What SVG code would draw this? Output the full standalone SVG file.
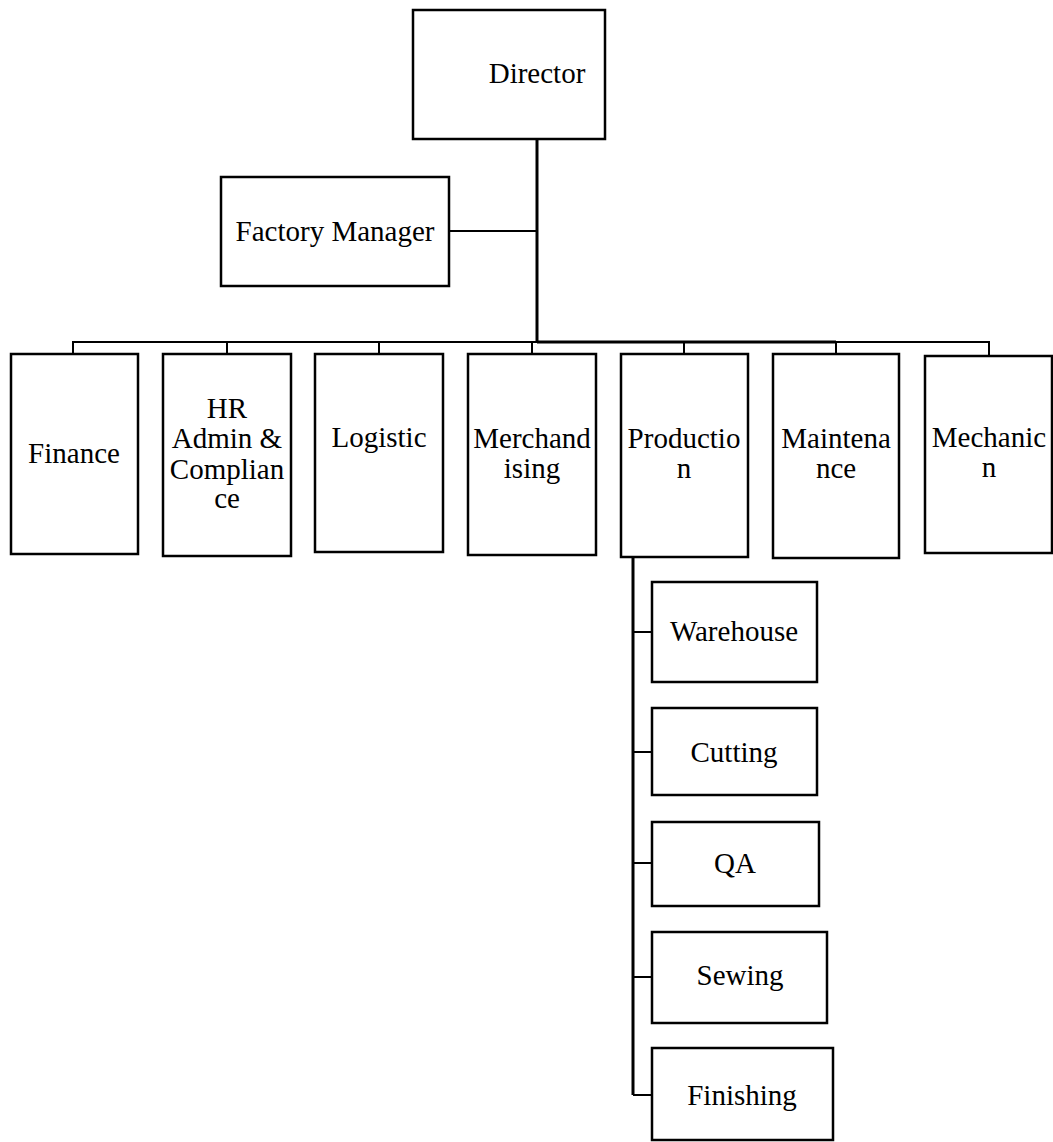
<svg xmlns="http://www.w3.org/2000/svg" width="1053" height="1142" viewBox="0 0 1053 1142">
<style>
.box{fill:#fff;stroke:#000;stroke-width:2.5}
text{font-family:'Liberation Serif',serif;font-size:29px;fill:#000;text-anchor:middle}
.c{fill:none;stroke:#000;stroke-width:2}
.ct{fill:none;stroke:#000;stroke-width:3}
</style>
<rect width="1053" height="1142" fill="#fff"/>
<g id="connectors">
<path class="ct" d="M537 139V343"/>
<path class="c" d="M449 231H537"/>
<path class="c" d="M73 354V342H989V356"/>
<path class="ct" d="M537 342H836"/>
<path class="c" d="M227 342V354M379 342V354M532 342V354M684 342V354M836 342V354"/>
<path class="ct" d="M633 557V1095"/>
<path class="c" d="M633 632H652M633 752H652M633 863H652M633 977H652M633 1095H652"/>
</g>
<g id="director"><rect class="box" x="413" y="10" width="192" height="129"/><text x="537" y="83">Director</text></g>
<g id="factory-manager"><rect class="box" x="221" y="177" width="228" height="109"/><text x="335" y="241">Factory Manager</text></g>
<g id="finance"><rect class="box" x="11" y="354" width="127" height="200"/><text x="74" y="463">Finance</text></g>
<g id="hr"><rect class="box" x="163" y="354" width="128" height="202"/><text x="227" y="418">HR</text><text x="227" y="448">Admin &amp;</text><text x="227" y="479">Complian</text><text x="227" y="508">ce</text></g>
<g id="logistic"><rect class="box" x="315" y="354" width="128" height="198"/><text x="379" y="447">Logistic</text></g>
<g id="merchandising"><rect class="box" x="468" y="354" width="128" height="201"/><text x="532" y="448">Merchand</text><text x="532" y="478">ising</text></g>
<g id="production"><rect class="box" x="621" y="354" width="127" height="203"/><text x="684" y="448">Productio</text><text x="684" y="478">n</text></g>
<g id="maintenance"><rect class="box" x="773" y="354" width="126" height="204"/><text x="836" y="448">Maintena</text><text x="836" y="478">nce</text></g>
<g id="mechanic"><rect class="box" x="925" y="356" width="127" height="197"/><text x="989" y="447">Mechanic</text><text x="989" y="477">n</text></g>
<g id="warehouse"><rect class="box" x="652" y="582" width="165" height="100"/><text x="734" y="641">Warehouse</text></g>
<g id="cutting"><rect class="box" x="652" y="708" width="165" height="87"/><text x="734" y="762">Cutting</text></g>
<g id="qa"><rect class="box" x="652" y="822" width="167" height="84"/><text x="735" y="873">QA</text></g>
<g id="sewing"><rect class="box" x="652" y="932" width="175" height="91"/><text x="740" y="985">Sewing</text></g>
<g id="finishing"><rect class="box" x="652" y="1048" width="181" height="92"/><text x="742" y="1105">Finishing</text></g>
</svg>
